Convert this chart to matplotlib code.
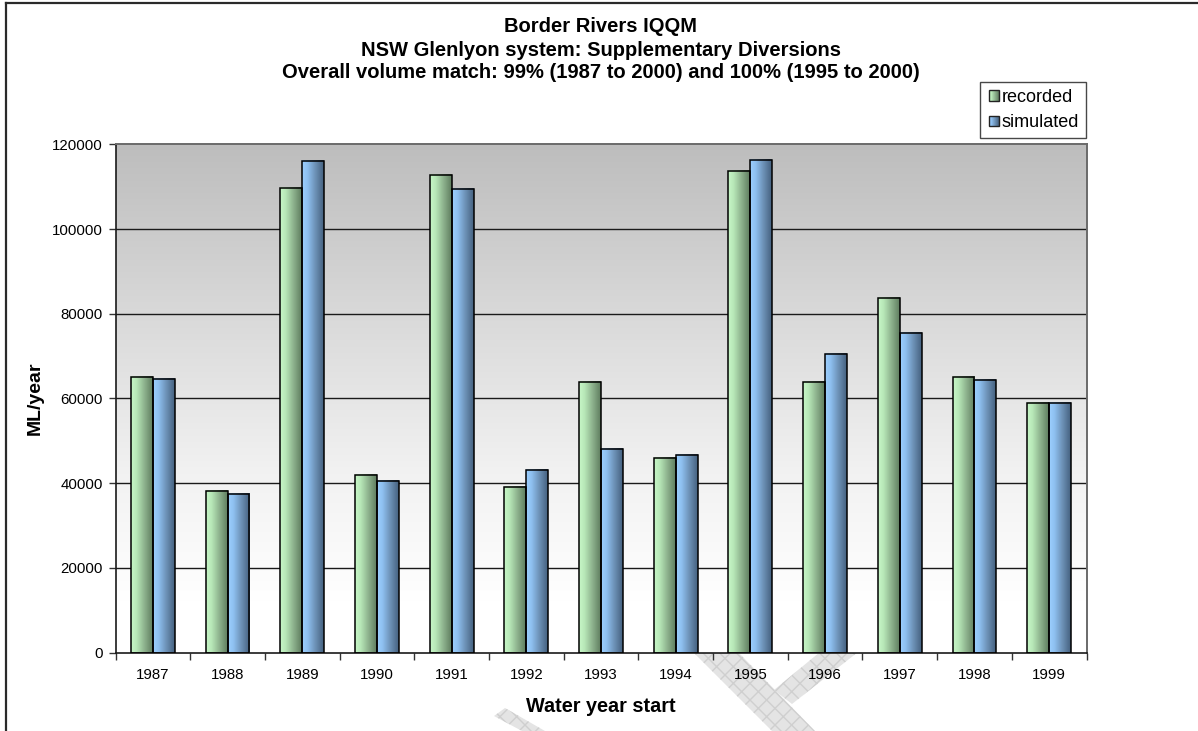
import numpy as np
import matplotlib
matplotlib.use("Agg")
import matplotlib.pyplot as plt
from matplotlib.patches import Rectangle, Polygon
from matplotlib.lines import Line2D
from matplotlib.colors import LinearSegmentedColormap
from matplotlib.legend_handler import HandlerBase

# ---- data -------------------------------------------------------------
years = ["1987", "1988", "1989", "1990", "1991", "1992", "1993",
         "1994", "1995", "1996", "1997", "1998", "1999"]
recorded = [65000, 38200, 109700, 41900, 112900, 39000, 64000,
            46000, 113800, 64000, 83700, 65000, 59000]
simulated = [64600, 37500, 116000, 40500, 109500, 43000, 48100,
             46700, 116400, 70500, 75500, 64300, 59000]
y_ticks = [0, 20000, 40000, 60000, 80000, 100000, 120000]
y_tick_labels = [str(v) for v in y_ticks]

title_lines = ["Border Rivers IQQM",
               "NSW Glenlyon system: Supplementary Diversions",
               "Overall volume match: 99% (1987 to 2000) and 100% (1995 to 2000)"]

# ---- styling ------------------------------------------------------------
plt.rcParams["font.family"] = ["Liberation Sans", "DejaVu Sans"]

W, H = 1198, 731
fig = plt.figure(figsize=(W / 100, H / 100), dpi=100)
fig.patch.set_facecolor("white")


def fx(px):
    return px / W


def fy(py):
    return 1 - py / H


green_cmap = LinearSegmentedColormap.from_list(
    "rec", [(0.0, "#c6f6c6"), (0.25, "#b8e8b8"), (0.6, "#8fb48f"), (1.0, "#5f7d5f")])
blue_cmap = LinearSegmentedColormap.from_list(
    "sim", [(0.0, "#9ccfff"), (0.25, "#8ec0f0"), (0.6, "#6e93b8"), (1.0, "#45617f")])

# faint hatched watermark behind the chart
wm_style = dict(facecolor="#e4e4e4", edgecolor="#cfcfcf", hatch="xx",
                linewidth=0, transform=fig.transFigure, zorder=0)
for pts in [
    [(693, 652), (738, 652), (815, 731), (772, 731)],
    [(820, 652), (858, 652), (792, 704), (774, 690)],
    [(494, 716), (505, 708), (545, 731), (522, 731)],
]:
    fig.add_artist(Polygon([(fx(x), fy(y)) for x, y in pts], closed=True, **wm_style))

# outer chart border (top and left edges)
fig.add_artist(Line2D([fx(6), fx(6)], [0, fy(3)], transform=fig.transFigure,
                      color="#2a2a2a", lw=1.6, zorder=5))
fig.add_artist(Line2D([fx(6), 1], [fy(3), fy(3)], transform=fig.transFigure,
                      color="#2a2a2a", lw=1.6, zorder=5))

# plot area
left, right, top, bottom = 115.5, 1086.5, 144.5, 652.5
ax = fig.add_axes([fx(left), fy(bottom), fx(right - left), (bottom - top) / H])
ax.set_zorder(2)

n = len(years)
x = np.arange(n)
xmin, xmax = -0.5, n - 0.5
ymin, ymax = 0, 120000

# vertical grey-to-white background gradient
bg = np.linspace(0, 1, 256).reshape(-1, 1)
bg_cmap = LinearSegmentedColormap.from_list(
    "bg", [(0.0, "#ffffff"), (0.10, "#ffffff"), (0.35, "#f2f2f2"),
           (0.7, "#d6d6d6"), (1.0, "#bdbdbd")])
ax.imshow(bg, extent=(xmin, xmax, ymin, ymax), origin="lower", aspect="auto",
          cmap=bg_cmap, zorder=0, interpolation="bilinear")

# horizontal gridlines
for v in y_ticks[1:-1]:
    ax.axhline(v, color="#1a1a1a", lw=1.0, zorder=1)

bw = 0.294
grad = np.linspace(0, 1, 64).reshape(1, -1)


def gradient_bars(xs, vals, cmap):
    for xc, v in zip(xs, vals):
        ax.imshow(grad, extent=(xc - bw / 2, xc + bw / 2, 0, v), origin="lower",
                  aspect="auto", cmap=cmap, zorder=2, interpolation="bilinear")
    ax.bar(xs, vals, width=bw, facecolor="none", edgecolor="black",
           linewidth=1.1, zorder=3)


gradient_bars(x - bw / 2, recorded, green_cmap)
gradient_bars(x + bw / 2, simulated, blue_cmap)

ax.set_xlim(xmin, xmax)
ax.set_ylim(ymin, ymax)

# axes, ticks
ax.set_yticks(y_ticks)
ax.set_yticklabels(y_tick_labels)
ax.set_xticks(np.arange(n + 1) - 0.5)
ax.set_xticklabels([])
ax.set_xticks(x, minor=True)
ax.set_xticklabels(years, minor=True)
ax.tick_params(axis="x", which="major", direction="out", length=5, width=1, color="#333333")
ax.tick_params(axis="x", which="minor", length=0, pad=11, labelsize=10.8)
ax.tick_params(axis="y", direction="out", length=5, width=1, color="#333333",
               labelsize=10.8, pad=4)

for s in ("left", "bottom"):
    ax.spines[s].set_color("#1a1a1a")
    ax.spines[s].set_linewidth(1.2)
for s in ("top", "right"):
    ax.spines[s].set_color("#6a6a6a")
    ax.spines[s].set_linewidth(1.4)

ax.set_xlabel("Water year start", fontsize=14.3, fontweight="bold", labelpad=11)
ax.set_ylabel("ML/year", fontsize=14, fontweight="bold", labelpad=6)

# title, one line at a time
for line, yc in zip(title_lines, (27, 50, 73)):
    fig.text(fx(601), fy(yc), line, ha="center", va="center",
             fontsize=14.5, fontweight="bold")


# legend with gradient swatches
class GradientSwatch(HandlerBase):
    def __init__(self, cmap):
        super().__init__()
        self.cmap = cmap

    def create_artists(self, legend, orig_handle, xdescent, ydescent,
                       width, height, fontsize, trans):
        side = min(width, height) * 0.8
        x0 = -xdescent + width - side
        y0 = -ydescent + (height - side) / 2
        steps = 10
        arts = []
        for k in range(steps):
            arts.append(Rectangle((x0 + side * k / steps, y0), side / steps, side,
                                  facecolor=self.cmap((k + 0.5) / steps),
                                  edgecolor="none", transform=trans))
        arts.append(Rectangle((x0, y0), side, side, facecolor="none",
                              edgecolor="#222222", lw=1.0, transform=trans))
        return arts


h_rec = Rectangle((0, 0), 1, 1)
h_sim = Rectangle((0, 0), 1, 1)
leg = fig.legend([h_rec, h_sim], ["recorded", "simulated"],
                 handler_map={h_rec: GradientSwatch(green_cmap),
                              h_sim: GradientSwatch(blue_cmap)},
                 loc="upper left", bbox_to_anchor=(fx(980), fy(82)),
                 fontsize=13, frameon=True, fancybox=False, borderaxespad=0,
                 handlelength=0.7, handleheight=0.7, handletextpad=0.1,
                 borderpad=0.38, labelspacing=0.45)
leg.get_frame().set_edgecolor("#1a1a1a")
leg.get_frame().set_linewidth(1.0)

fig.savefig("out.png", dpi=100, facecolor="white")
